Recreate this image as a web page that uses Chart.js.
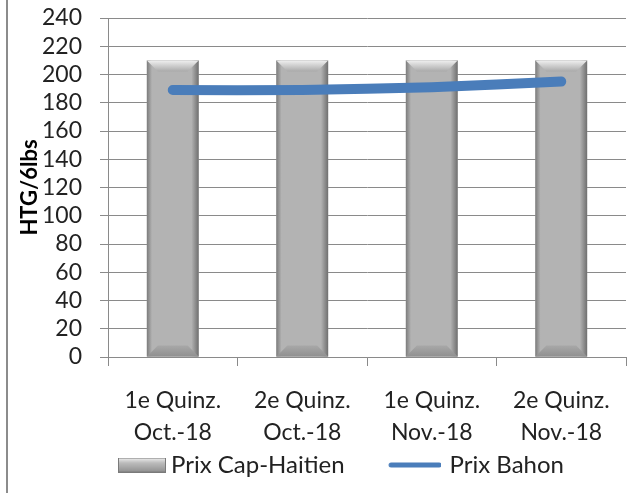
<!DOCTYPE html>
<html>
<head>
<meta charset="utf-8">
<script src="https://cdn.jsdelivr.net/npm/chart.js@4.4.0/dist/chart.umd.min.js"></script>
<style>
  html, body { margin: 0; padding: 0; background: #fff; }
  #wrap { width: 629px; height: 493px; }
</style>
</head>
<body>
<div id="wrap"><canvas id="chart" width="629" height="493"></canvas></div>
<script>
const categories = [
    ['1e Quinz.', 'Oct.-18'],
    ['2e Quinz.', 'Oct.-18'],
    ['1e Quinz.', 'Nov.-18'],
    ['2e Quinz.', 'Nov.-18']
];
const prixCapHaitien = [210, 210, 210, 210];
const prixBahon = [189, 189, 191, 195];
const yMin = 0;
const yMax = 240;
const yStep = 20;

const FONT = 'Lato, "Open Sans", sans-serif';
const GRID = '#8a8a8a';
const BLUE = '#4a7dba';
const LEGEND_PAD = 38;

// legend icons (wider than the legend box so they sit close to the text)
function barIcon() {
    const c = document.createElement('canvas');
    c.width = 69; c.height = 15;
    const g = c.getContext('2d');
    let gr = g.createLinearGradient(0, 0, 0, 15);
    gr.addColorStop(0, '#f4f4f4');
    gr.addColorStop(0.35, '#bdbdbd');
    gr.addColorStop(1, '#8e8e8e');
    g.fillStyle = gr;
    g.fillRect(21, 0, 48, 15);
    g.strokeStyle = '#7a7a7a';
    g.lineWidth = 1;
    g.strokeRect(21.5, 0.5, 47, 14);
    return c;
}
function lineIcon() {
    const c = document.createElement('canvas');
    c.width = 62; c.height = 8;
    const g = c.getContext('2d');
    g.strokeStyle = BLUE;
    g.lineWidth = 5;
    g.lineCap = 'round';
    g.beginPath();
    g.moveTo(12, 4);
    g.lineTo(60, 4);
    g.stroke();
    return c;
}
const icons = [barIcon(), lineIcon()];

// shading for the bevelled bars, drawn on the elements chart.js placed
const bevelBars = {
    id: 'bevelBars',
    afterDatasetDraw(chart, args) {
        if (args.index !== 0) return;
        const ctx = chart.ctx;
        ctx.save();
        args.meta.data.forEach(bar => {
            const p = bar.getProps(['x', 'y', 'base', 'width'], true);
            const l = p.x - p.width / 2, r = p.x + p.width / 2, t = p.y, b = p.base;
            const d = Math.min(11, p.width / 4);

            let g = ctx.createLinearGradient(l, 0, r, 0);
            g.addColorStop(0, '#7c7c7c');
            g.addColorStop(0.1, '#b3b3b3');
            g.addColorStop(0.86, '#b3b3b3');
            g.addColorStop(1, '#6f6f6f');
            ctx.fillStyle = g;
            ctx.fillRect(l, t, r - l, b - t);

            g = ctx.createLinearGradient(0, t, 0, t + d);
            g.addColorStop(0, '#f0f0f0');
            g.addColorStop(1, '#aaaaaa');
            ctx.fillStyle = g;
            ctx.beginPath();
            ctx.moveTo(l, t); ctx.lineTo(r, t);
            ctx.lineTo(r - d, t + d); ctx.lineTo(l + d, t + d);
            ctx.closePath();
            ctx.fill();

            g = ctx.createLinearGradient(0, b - d, 0, b);
            g.addColorStop(0, '#a8a8a8');
            g.addColorStop(1, '#909090');
            ctx.fillStyle = g;
            ctx.beginPath();
            ctx.moveTo(l, b); ctx.lineTo(r, b);
            ctx.lineTo(r - d, b - d); ctx.lineTo(l + d, b - d);
            ctx.closePath();
            ctx.fill();
        });
        ctx.restore();
    }
};

// grey frame edge on the left of the picture
const frameEdge = {
    id: 'frameEdge',
    beforeDraw(chart) {
        const ctx = chart.ctx;
        ctx.save();
        ctx.fillStyle = '#8c8c8c';
        ctx.fillRect(6, 0, 2, chart.height);
        ctx.restore();
    }
};

// let the two-line x labels overflow the axis box, and move the legend row right
const layoutTweaks = {
    id: 'layoutTweaks',
    afterLayout(chart) {
        chart.scales.x.bottom = chart.height;
        if (chart.legend && chart.legend.lineWidths) {
            chart.legend.lineWidths[0] -= 42;
        }
    }
};

const ctx = document.getElementById('chart').getContext('2d');
new Chart(ctx, {
    type: 'bar',
    data: {
        labels: categories,
        datasets: [{
            type: 'bar',
            label: 'Prix Cap-Haitien',
            data: prixCapHaitien,
            backgroundColor: '#b3b3b3',
            categoryPercentage: 1,
            barPercentage: 0.4,
            order: 2
        }, {
            type: 'line',
            label: 'Prix Bahon',
            data: prixBahon,
            borderColor: BLUE,
            backgroundColor: BLUE,
            borderWidth: 10,
            borderCapStyle: 'round',
            borderJoinStyle: 'round',
            pointRadius: 0,
            tension: 0.2,
            order: 1
        }]
    },
    options: {
        responsive: false,
        animation: false,
        layout: {
            padding: { top: 18, right: 3, bottom: 6, left: 0 }
        },
        scales: {
            x: {
                grid: {
                    display: true,
                    drawOnChartArea: false,
                    color: GRID,
                    tickLength: 9
                },
                border: { color: GRID },
                ticks: {
                    color: '#222',
                    padding: 18,
                    font: { family: FONT, size: 23, lineHeight: 1.4 }
                },
                afterFit: function (scale) {
                    scale.height = 58;
                }
            },
            y: {
                min: yMin,
                max: yMax,
                ticks: {
                    stepSize: yStep,
                    autoSkip: false,
                    color: '#222',
                    padding: 18,
                    font: { family: FONT, size: 23 }
                },
                grid: { color: GRID, tickLength: 8 },
                border: { color: GRID },
                title: {
                    display: true,
                    text: 'HTG/6lbs',
                    color: '#000',
                    padding: { top: 17, bottom: 0 },
                    font: { family: FONT, size: 22, weight: 'bold' }
                },
                afterFit: function (scale) {
                    scale.width = 108;
                    scale.paddingTop = 0;
                    scale.paddingBottom = 0;
                }
            }
        },
        plugins: {
            legend: {
                position: 'bottom',
                labels: {
                    usePointStyle: true,
                    pointStyleWidth: 55,
                    padding: LEGEND_PAD,
                    color: '#222',
                    font: { family: FONT, size: 24 },
                    generateLabels: function (chart) {
                        const items = Chart.defaults.plugins.legend.labels.generateLabels(chart);
                        items.forEach(it => { it.pointStyle = icons[it.datasetIndex]; });
                        return items.sort((a, b) => a.datasetIndex - b.datasetIndex);
                    }
                }
            },
            tooltip: { enabled: false }
        }
    },
    plugins: [frameEdge, bevelBars, layoutTweaks]
});
</script>
</body>
</html>
